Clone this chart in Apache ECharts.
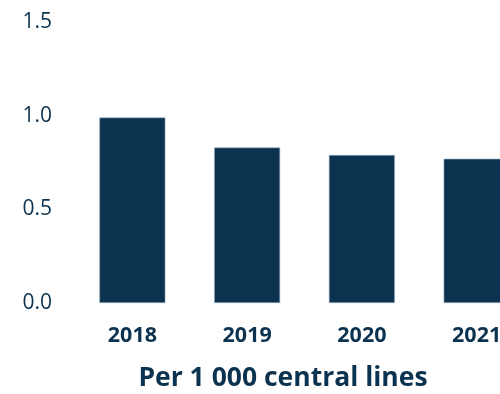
<!DOCTYPE html>
<html>
<head>
<meta charset="utf-8">
<script src="https://cdn.jsdelivr.net/npm/echarts@6/dist/echarts.min.js"></script>
<style>html,body{margin:0;padding:0;background:#fff}#c{width:500px;height:394px}</style>
</head>
<body>
<div id="c"></div>
<script>
var categories = ['2018', '2019', '2020', '2021'];
var values = [0.99, 0.83, 0.79, 0.77];
var yTicks = [0, 0.5, 1.0, 1.5];
var axisTitle = 'Per 1 000 central lines';

var navy = '#0B3350';
var chart = echarts.init(document.getElementById('c'), null, {renderer: 'canvas'});
chart.setOption({
  animation: false,
  backgroundColor: '#ffffff',
  title: {
    text: axisTitle,
    left: 278, top: 360,
    textAlign: 'center',
    textStyle: {fontFamily: 'Open Sans', fontWeight: 'bold', fontSize: 26.5, color: navy}
  },
  grid: {left: 75, top: 22, width: 459, height: 281, containLabel: false, outerBoundsMode: 'none'},
  xAxis: {
    type: 'category',
    data: categories,
    axisLine: {show: false},
    axisTick: {show: false},
    axisLabel: {margin: 22, fontFamily: 'Open Sans', fontWeight: 'bold', fontSize: 21.5, color: navy}
  },
  yAxis: {
    type: 'value',
    min: yTicks[0], max: yTicks[yTicks.length - 1], interval: 0.5,
    splitLine: {show: false},
    axisLine: {show: false},
    axisTick: {show: false},
    axisLabel: {
      margin: 23,
      fontFamily: 'Open Sans', fontSize: 21, color: navy,
      formatter: function (v) { return v.toFixed(1); }
    }
  },
  series: [{
    type: 'bar',
    data: values,
    barWidth: 66,
    itemStyle: {color: navy, borderColor: '#9db0c2', borderWidth: 0.6}
  }]
});
</script>
</body>
</html>
